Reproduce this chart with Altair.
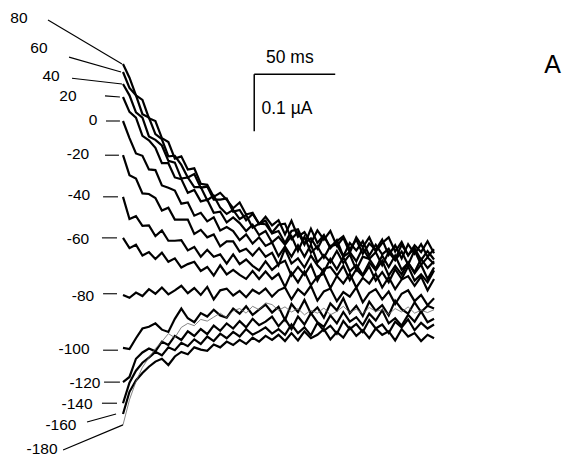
import altair as alt
import pandas as pd

# ---- data (time in ms, current in nA; 0 nA = level of the -80 mV trace) ----
times = list(range(0, 193, 4))

trace_labels = ["80", "60", "40", "20", "0", "-20", "-40", "-60", "-80",
                "-100", "-120", "-140", "-160", "-180"]

i_p80 = [407, 383, 352, 344, 312, 307, 277, 270, 241, 245, 222, 224, 197, 195, 174, 181, 169,
         154, 164, 143, 146, 126, 139, 124,
         133, 108, 132, 104, 112, 93, 115, 99, 114, 88, 102, 76, 103, 86, 103, 78, 93, 103, 78,
         95, 71, 89, 77, 96, 75]
i_p60 = [393, 365, 352, 319, 313, 284, 275, 245, 246, 230, 208, 214, 190, 192, 169, 169, 171,
         148, 151, 133, 144, 127, 132, 111,
         125, 127, 100, 112, 90, 118, 93, 107, 84, 96, 105, 82, 99, 74, 92, 81, 99, 72, 89,
         66, 91, 74, 91, 69, 82]
i_p40 = [372, 352, 322, 313, 280, 274, 264, 237, 234, 206, 208, 191, 191, 168, 176, 155, 144,
         151, 135, 142, 120, 127, 126, 110,
         114, 93, 114, 117, 92, 101, 83, 105, 85, 98, 70, 93, 80, 96, 71, 90, 73, 83, 64,
         90, 72, 84, 63, 79, 64]
i_p20 = [349, 323, 313, 281, 273, 260, 233, 233, 208, 205, 181, 186, 166, 169, 146, 148, 129,
         138, 128, 114, 125, 107, 114, 94,
         104, 90, 105, 79, 104, 76, 87, 67, 88, 90, 69, 77, 61, 84, 65, 77, 54, 77, 63,
         78, 55, 80, 55, 68, 56]
i_0 = [307, 277, 250, 246, 222, 221, 194, 190, 185, 162, 164, 141, 146, 131, 138, 115, 121,
       114, 98, 108, 92, 103, 88, 94,
       70, 87, 69, 89, 69, 90, 59, 72, 59, 79, 58, 73, 46, 69, 65, 48, 71, 51, 71,
       46, 58, 42, 65, 49, 61]
i_m20 = [247, 212, 206, 180, 179, 172, 150, 155, 134, 134, 134, 109, 116, 103, 108, 87, 96,
         96, 78, 83, 71, 84, 69, 76,
         54, 83, 57, 66, 50, 71, 54, 42, 65, 47, 68, 43, 55, 37, 59, 45, 62, 36, 53,
         38, 59, 40, 55, 30, 50]
i_m40 = [174, 135, 140, 123, 124, 105, 115, 97, 97, 98, 80, 86, 69, 81, 69, 73, 57,
         73, 56, 64, 53, 45, 61, 46,
         56, 62, 36, 51, 37, 55, 27, 48, 51, 36, 53, 28, 47, 35, 52, 27, 42, 24, 47,
         30, 52, 27, 38, 24, 45]
i_m60 = [102, 84, 90, 71, 77, 65, 76, 60, 66, 50, 56, 60, 44, 51, 36, 54, 38,
         46, 37, 30, 44, 30, 43, 30,
         39, 16, 41, 24, 43, 19, 34, 39, 14, 35, 22, 39, 15, 32, 22, 39, 15, 33, 12,
         29, 35, 18, 34, 10, 30]
i_m80 = [2, -3, 6, 0, 12, 4, 15, 3, 10, 18, 5, 14, 2, 16, -6, 10, 13,
         1, 9, -2, 11, 4, 13, -1,
         10, 15, -6, 12, 2, 18, -8, 8, 13, -9, 7, -1, 15, -11, 5, 12, -6, 8, -14,
         4, 10, -9, 2, -16, -4]
i_m100 = [-91, -93, -74, -57, -54, -48, -59, -63, -40, -22, -39, -46, -30, -36, -24, -34, -38,
          -22, -31, -18, -33, -24, -15, -29,
          -19, -42, -14, -28, -7, -31, -20, -38, -13, -25, -4, -30, -17, -35, -10, -26, -16,
          -34, -8, -23, -31, -11, -28, -17, -22]
i_m120 = [-151, -142, -110, -99, -92, -97, -80, -86, -70, -77, -62, -70, -58, -67, -52, -61, -48,
          -57, -44, -55, -40, -51, -45, -36,
          -53, -40, -58, -36, -50, -30, -46, -54, -34, -48, -28, -45, -37, -51, -31, -43, -25,
          -48, -39, -52, -33, -45, -27, -46, -40]
i_m140 = [-188, -152, -131, -117, -108, -98, -104, -90, -95, -82, -88, -76, -84, -71, -79, -66, -74,
          -63, -71, -58, -68, -62, -55, -66,
          -58, -68, -50, -65, -55, -69, -47, -61, -52, -66, -44, -58, -49, -63, -42, -57, -50,
          -65, -45, -55, -41, -60, -47, -57, -50]
i_m160 = [-207, -168, -148, -135, -124, -115, -110, -121, -106, -98, -102, -90, -94, -96, -85, -90, -80,
          -86, -77, -84, -73, -80, -70, -77,
          -68, -79, -65, -78, -62, -74, -68, -58, -76, -63, -73, -55, -70, -60, -74, -57, -68,
          -62, -78, -58, -71, -65, -79, -68, -74]
i_m180 = [-226, -182, -150, -125, -108, -92, -80, -66, -73, -55, -48, -52, -41, -44, -37, -30, -38,
          -26, -22, -30, -18, -24, -12, -15, -25, -19, -28, -22, -33, -25, -30, -21, -33, -27, -18,
          -29, -23, -31, -20, -27, -24, -32, -22, -28, -19, -30, -25, -29, -24]

currents = [i_p80, i_p60, i_p40, i_p20, i_0, i_m20, i_m40, i_m60, i_m80,
            i_m100, i_m120, i_m140, i_m160, i_m180]
thin_traces = ["-180"]

# step-potential labels (mV) with their anchor (ms, nA) and leader lines
label_t = [-64.2, -51.9, -44.4, -34.0, -18.5, -27.8, -27.2, -27.8, -24.7, -30.2, -23.5, -28.4, -38.3, -50.0]
label_i = [487, 435, 386, 351, 309, 249, 177, 100, 0, -93, -153, -189, -226, -268]
lead_t0 = [-46.3, -33.3, -31.5, -11.1, -10.5, -11.1, -12.3, -13.0, -12.3, -12.3, -11.7, -13.0, -22.2, -37.0]
lead_i0 = [484, 419, 382, 351, 307, 247, 174, 102, 4, -95, -151, -188, -221, -270]
lead_t1 = [-0.6, -1.2, -0.6, -1.9, -1.9, -2.5, -3.1, -3.7, -3.7, -3.1, -1.9, -3.7, -4.3, 0.0]
lead_i1 = [407, 393, 372, 349, 307, 247, 174, 102, 4, -95, -151, -188, -207, -226]

# scale bar: 50 ms by 0.1 uA (100 nA)
bar_t = 81
bar_i = 389
bar_dt = 50
bar_di = 100

# ---- tables ----
rows = []
for lab, vals in zip(trace_labels, currents):
    for t, v in zip(times, vals):
        rows.append({"trace": lab, "t": t, "I": v, "thin": lab in thin_traces})
df = pd.DataFrame(rows)

labels_df = pd.DataFrame({"label": trace_labels, "t": label_t, "I": label_i,
                          "t0": lead_t0, "i0": lead_i0, "t1": lead_t1, "i1": lead_i1})

bar_df = pd.DataFrame({"t": [bar_t, bar_t], "I": [bar_i, bar_i],
                       "t2": [bar_t + bar_dt, bar_t], "I2": [bar_i, bar_i - bar_di]})
bar_text = pd.DataFrame({"txt": ["50 ms", "0.1 µA"],
                         "t": [bar_t + 22, bar_t + 4.5],
                         "I": [bar_i + 28, bar_i - 61]})
panel_df = pd.DataFrame({"txt": ["A"], "t": [265.2], "I": [405]})

W, H = 555, 448
xs = alt.Scale(domain=[-70.99, -70.99 + W / 1.62], nice=False, zero=False)
ys = alt.Scale(domain=[505.2 - H * 1.754, 505.2], nice=False, zero=False)
FONT = "Liberation Sans"
X = lambda f: alt.X(f, scale=xs, axis=None)
Y = lambda f: alt.Y(f, scale=ys, axis=None)

base = alt.Chart(df)
thick = base.transform_filter("!datum.thin").mark_line(color="black", strokeWidth=2.2).encode(
    x=X("t:Q"), y=Y("I:Q"), detail="trace:N", order="t:Q")
thin = base.transform_filter("datum.thin").mark_line(color="#666666", strokeWidth=0.8).encode(
    x=X("t:Q"), y=Y("I:Q"), detail="trace:N", order="t:Q")

leaders = alt.Chart(labels_df).mark_rule(color="black", strokeWidth=1.1).encode(
    x=X("t0:Q"), y=Y("i0:Q"), x2="t1:Q", y2="i1:Q")
label_text = alt.Chart(labels_df).mark_text(font=FONT, fontSize=15.5, color="black",
                                            align="center", baseline="middle").encode(
    x=X("t:Q"), y=Y("I:Q"), text="label:N")

bar = alt.Chart(bar_df).mark_rule(color="black", strokeWidth=1.5).encode(
    x=X("t:Q"), y=Y("I:Q"), x2="t2:Q", y2="I2:Q")
bar_lab1 = alt.Chart(bar_text.iloc[[0]]).mark_text(font=FONT, fontSize=17.5, color="black",
                                                   align="center", baseline="middle").encode(
    x=X("t:Q"), y=Y("I:Q"), text="txt:N")
bar_lab2 = alt.Chart(bar_text.iloc[[1]]).mark_text(font=FONT, fontSize=17.5, color="black",
                                                   align="left", baseline="middle").encode(
    x=X("t:Q"), y=Y("I:Q"), text="txt:N")
panel = alt.Chart(panel_df).mark_text(font=FONT, fontSize=25, color="black",
                                      align="center", baseline="middle").encode(
    x=X("t:Q"), y=Y("I:Q"), text="txt:N")

chart = alt.layer(thick, thin, leaders, label_text, bar, bar_lab1, bar_lab2, panel).properties(
    width=W, height=H, padding=0, autosize="none", background="white"
).configure_view(stroke=None)

chart.save("out.html", embed_options={"renderer": "svg", "actions": False})
